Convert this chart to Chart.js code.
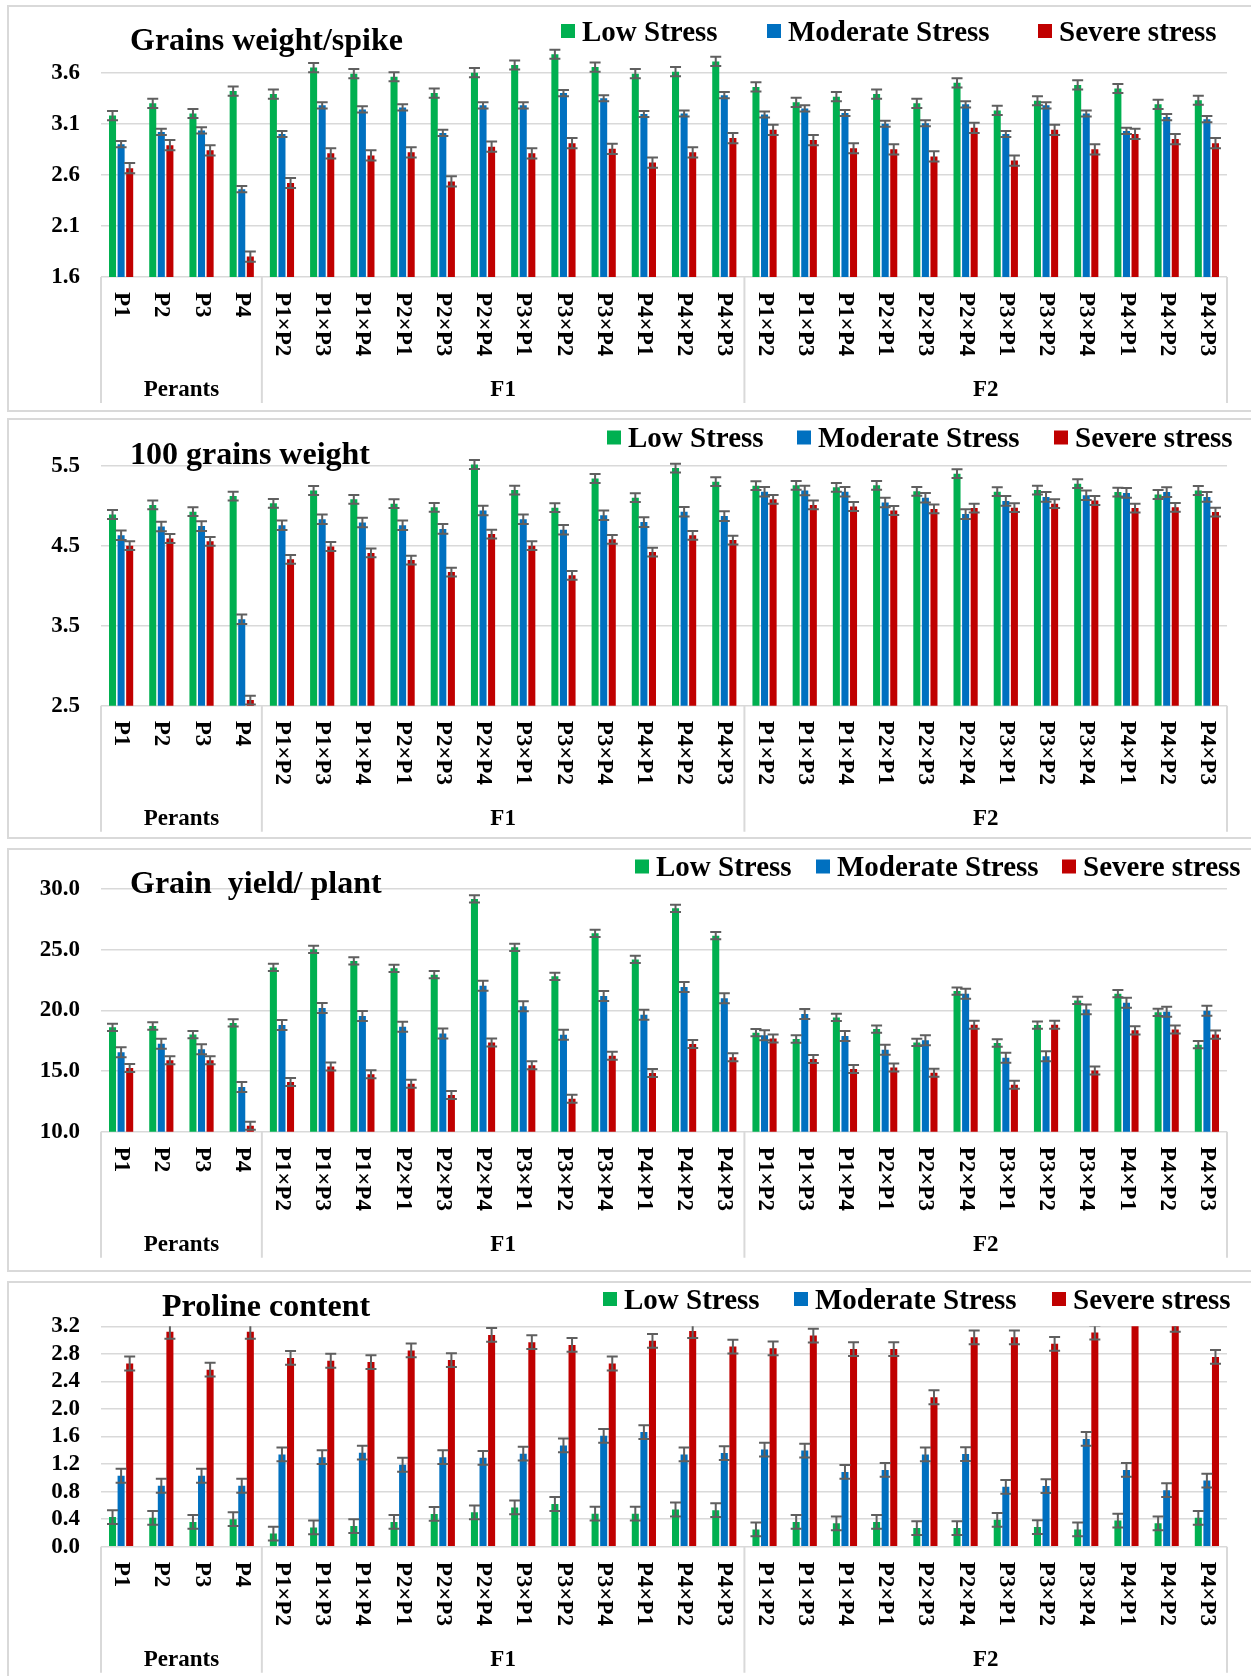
<!DOCTYPE html>
<html>
<head>
<meta charset="utf-8">
<script src="https://cdn.jsdelivr.net/npm/chart.js@4.4.1/dist/chart.umd.min.js"></script>
<style>
  html, body { margin: 0; padding: 0; background: #fff; width: 1251px; height: 1676px; overflow: hidden; }
  .frame { position: absolute; left: 7px; width: 1300px; border: 2px solid #d9d9d9; box-sizing: border-box; }
  .panel { position: absolute; left: 0; width: 1251px; }
  .panel canvas { position: absolute; left: 0; top: 0; }
</style>
</head>
<body>
<script>
// Genotypes on the category axis
const categories = ["P1", "P2", "P3", "P4",
  "P1×P2", "P1×P3", "P1×P4", "P2×P1", "P2×P3", "P2×P4", "P3×P1", "P3×P2", "P3×P4", "P4×P1", "P4×P2", "P4×P3",
  "P1×P2", "P1×P3", "P1×P4", "P2×P1", "P2×P3", "P2×P4", "P3×P1", "P3×P2", "P3×P4", "P4×P1", "P4×P2", "P4×P3"];
const generationNames = ["Perants", "F1", "F2"];
const generationStarts = [0, 4, 16];
const seriesNames = ["Low Stress", "Moderate Stress", "Severe stress"];

// Grains weight/spike
const gwsLow = [3.18, 3.30, 3.20, 3.42, 3.39, 3.65, 3.59, 3.56, 3.40, 3.60, 3.675, 3.78, 3.655, 3.59, 3.61, 3.71,
  3.46, 3.31, 3.365, 3.39, 3.30, 3.50, 3.23, 3.325, 3.48, 3.445, 3.29, 3.33];
const gwsModerate = [2.90, 3.02, 3.035, 2.46, 3.00, 3.28, 3.24, 3.26, 3.01, 3.28, 3.28, 3.40, 3.35, 3.195, 3.20, 3.38,
  3.19, 3.25, 3.205, 3.10, 3.105, 3.29, 3.00, 3.28, 3.20, 3.03, 3.165, 3.145];
const gwsSevere = [2.665, 2.89, 2.84, 1.80, 2.52, 2.81, 2.79, 2.82, 2.535, 2.875, 2.81, 2.91, 2.855, 2.72, 2.82, 2.96,
  3.04, 2.94, 2.86, 2.85, 2.78, 3.06, 2.74, 3.04, 2.85, 3.00, 2.95, 2.91];
const gwsErrors = [0.045, 0.03, 0.05];
const gwsTicks = [1.6, 2.1, 2.6, 3.1, 3.6];

// 100 grains weight
const hgwLow = [4.89, 5.01, 4.925, 5.12, 5.03, 5.19, 5.08, 5.025, 4.98, 5.515, 5.195, 4.975, 5.34, 5.10, 5.47, 5.30,
  5.25, 5.255, 5.23, 5.255, 5.18, 5.40, 5.175, 5.195, 5.275, 5.17, 5.14, 5.19];
const hgwModerate = [4.63, 4.74, 4.745, 3.58, 4.755, 4.83, 4.79, 4.755, 4.71, 4.94, 4.83, 4.70, 4.88, 4.795, 4.925, 4.87,
  5.175, 5.19, 5.175, 5.04, 5.10, 4.895, 5.06, 5.11, 5.13, 5.16, 5.17, 5.11];
const hgwSevere = [4.50, 4.59, 4.555, 2.57, 4.33, 4.49, 4.41, 4.32, 4.17, 4.645, 4.50, 4.13, 4.58, 4.42, 4.63, 4.57,
  5.08, 5.01, 4.99, 4.94, 4.96, 4.97, 4.975, 5.025, 5.065, 4.97, 4.98, 4.92];
const hgwErrors = [0.055, 0.06, 0.055];
const hgwTicks = [2.5, 3.5, 4.5, 5.5];

// Grain yield/ plant
const gypLow = [18.60, 18.71, 18.00, 18.96, 23.54, 25.03, 24.07, 23.46, 22.94, 29.18, 25.19, 22.80, 26.35, 24.20, 28.41, 26.15,
  18.16, 17.64, 19.42, 18.46, 17.36, 21.59, 17.31, 18.79, 20.82, 21.37, 19.84, 17.17];
const gypModerate = [16.54, 17.25, 16.79, 13.68, 18.79, 20.19, 19.53, 18.65, 18.10, 22.03, 20.33, 17.99, 21.18, 19.64, 21.92, 20.99,
  17.94, 19.70, 17.88, 16.76, 17.53, 21.37, 16.10, 16.21, 20.08, 20.63, 19.89, 19.97];
const gypSevere = [15.25, 15.88, 15.88, 10.49, 14.09, 15.38, 14.73, 13.96, 13.02, 17.36, 15.47, 12.72, 16.26, 14.84, 17.23, 16.13,
  17.69, 15.99, 15.16, 15.30, 14.86, 18.82, 13.87, 18.82, 15.05, 18.35, 18.43, 18.00];
const gypErrors = [0.3, 0.41, 0.33];
const gypTicks = [10, 15, 20, 25, 30];

// Proline content
const proLow = [0.43, 0.42, 0.36, 0.40, 0.19, 0.28, 0.30, 0.36, 0.475, 0.50, 0.57, 0.62, 0.48, 0.48, 0.54, 0.53,
  0.25, 0.36, 0.34, 0.36, 0.27, 0.27, 0.39, 0.285, 0.25, 0.38, 0.34, 0.42];
const proModerate = [1.03, 0.885, 1.03, 0.885, 1.34, 1.30, 1.365, 1.19, 1.30, 1.29, 1.35, 1.47, 1.61, 1.665, 1.34, 1.36,
  1.41, 1.395, 1.085, 1.115, 1.34, 1.345, 0.87, 0.88, 1.565, 1.115, 0.82, 0.96];
const proSevere = [2.66, 3.12, 2.57, 3.12, 2.74, 2.70, 2.68, 2.85, 2.71, 3.075, 2.97, 2.93, 2.66, 2.99, 3.13, 2.905,
  2.88, 3.065, 2.87, 2.87, 2.17, 3.04, 3.04, 2.945, 3.11, 3.35, 3.22, 2.755];
const proErrors = [0.1, 0.1, 0.1];
const proTicks = [0, 0.4, 0.8, 1.2, 1.6, 2.0, 2.4, 2.8, 3.2];

const COLORS = ["#00B050", "#0070C0", "#C00000"];
const SERIF = '"Liberation Serif", "Times New Roman", serif';

// Panel frames and chart geometry (page pixels)
const panels = [
  { title: "Grains weight/spike", series: [gwsLow, gwsModerate, gwsSevere], errors: gwsErrors, ticks: gwsTicks,
    min: 1.6, max: 3.9, top: 5, height: 407, frameH: 407, padTop: 37, xH: 135,
    titleX: 130, titleY: 45, legendY: 26, legendX: [561, 767, 1038] },
  { title: "100 grains weight", series: [hgwLow, hgwModerate, hgwSevere], errors: hgwErrors, ticks: hgwTicks,
    min: 2.5, max: 5.8, top: 418, height: 421, frameH: 421, padTop: 23.7, xH: 133.3,
    titleX: 130, titleY: 46, legendY: 19.5, legendX: [607, 797, 1054] },
  { title: "Grain  yield/ plant", series: [gypLow, gypModerate, gypSevere], errors: gypErrors, ticks: gypTicks,
    min: 10, max: 31.5, top: 848, height: 424, frameH: 424, padTop: 22.8, xH: 140.3,
    titleX: 130, titleY: 45, legendY: 18.5, legendX: [635, 816, 1062] },
  { title: "Proline content", series: [proLow, proModerate, proSevere], errors: proErrors, ticks: proTicks,
    min: 0, max: 3.2, top: 1281, height: 395, frameH: 420, padTop: 45.3, xH: 129.3,
    titleX: 162, titleY: 35, legendY: 18, legendX: [603, 794, 1052] }
];

// Error bars (± value, capped at both ends), clipped to the plot area
const errorBarPlugin = {
  id: "errorBars",
  afterDatasetsDraw(chart) {
    const { ctx, chartArea: a } = chart;
    const ys = chart.scales.y;
    ctx.save();
    ctx.beginPath();
    ctx.rect(a.left, a.top, a.right - a.left, a.bottom - a.top);
    ctx.clip();
    ctx.strokeStyle = "#5f5f5f";
    ctx.lineWidth = 2;
    chart.data.datasets.forEach((ds, di) => {
      const meta = chart.getDatasetMeta(di);
      meta.data.forEach((bar, i) => {
        const v = ds.data[i], e = ds.errorBar;
        const yT = ys.getPixelForValue(v + e), yB = ys.getPixelForValue(v - e);
        const x = bar.x, h = 5.5;
        ctx.beginPath();
        ctx.moveTo(x, yT); ctx.lineTo(x, yB);
        ctx.moveTo(x - h, yT); ctx.lineTo(x + h, yT);
        ctx.moveTo(x - h, yB); ctx.lineTo(x + h, yB);
        ctx.stroke();
      });
    });
    ctx.restore();
  }
};

// Rotated genotype labels, generation group labels and separators
const groupAxisPlugin = {
  id: "groupAxis",
  afterDraw(chart) {
    const { ctx, chartArea: a } = chart;
    const xs = chart.scales.x;
    const w = (a.right - a.left) / categories.length;
    ctx.save();
    ctx.fillStyle = "#000";
    ctx.font = "bold 23px " + SERIF;
    categories.forEach((c, i) => {
      const x = xs.getPixelForValue(i);
      ctx.save();
      ctx.translate(x, a.bottom + 15);
      ctx.rotate(Math.PI / 2);
      ctx.textAlign = "left";
      ctx.textBaseline = "middle";
      ctx.fillText(c, 0, 0);
      ctx.restore();
    });
    // separators
    ctx.strokeStyle = "#d9d9d9";
    ctx.lineWidth = 2;
    const bounds = generationStarts.concat([categories.length]);
    ctx.beginPath();
    bounds.forEach(b => {
      const x = a.left + b * w;
      ctx.moveTo(x, a.bottom);
      ctx.lineTo(x, a.bottom + 126);
    });
    ctx.stroke();
    // generation labels
    ctx.font = "bold 23px " + SERIF;
    ctx.textAlign = "center";
    ctx.textBaseline = "alphabetic";
    generationNames.forEach((g, k) => {
      const x0 = a.left + bounds[k] * w, x1 = a.left + bounds[k + 1] * w;
      ctx.fillText(g, (x0 + x1) / 2, a.bottom + 119);
    });
    ctx.restore();
  }
};

// Title and legend row
const headerPlugin = {
  id: "header",
  afterDraw(chart) {
    const p = chart.options.plugins.header;
    const { ctx } = chart;
    ctx.save();
    ctx.fillStyle = "#000";
    ctx.textAlign = "left";
    ctx.textBaseline = "alphabetic";
    ctx.font = "bold 32px " + SERIF;
    ctx.fillText(p.title, p.titleX, p.titleY);
    ctx.font = "bold 29px " + SERIF;
    chart.data.datasets.forEach((ds, i) => {
      const x = p.legendX[i];
      ctx.fillStyle = ds.backgroundColor;
      ctx.fillRect(x, p.legendY - 7, 14, 14);
      ctx.fillStyle = "#000";
      ctx.fillText(ds.label, x + 21, p.legendY + 9.5);
    });
    ctx.restore();
  }
};

panels.forEach(p => {
  const frame = document.createElement("div");
  frame.className = "frame";
  frame.style.top = p.top + "px";
  frame.style.height = p.frameH + "px";
  document.body.appendChild(frame);

  const holder = document.createElement("div");
  holder.className = "panel";
  holder.style.top = p.top + "px";
  holder.style.height = p.height + "px";
  const canvas = document.createElement("canvas");
  canvas.width = 1251;
  canvas.height = p.height;
  canvas.style.width = "1251px";
  canvas.style.height = p.height + "px";
  holder.appendChild(canvas);
  document.body.appendChild(holder);

  new Chart(canvas, {
    type: "bar",
    data: {
      labels: categories,
      datasets: p.series.map((d, i) => ({
        label: seriesNames[i],
        data: d,
        backgroundColor: COLORS[i],
        errorBar: p.errors[i],
        categoryPercentage: 0.64,
        barPercentage: 0.82
      }))
    },
    options: {
      responsive: false,
      animation: false,
      devicePixelRatio: 1,
      layout: { padding: { top: p.padTop, left: 0, right: 24, bottom: 0 } },
      plugins: {
        legend: { display: false },
        tooltip: { enabled: false },
        header: { title: p.title, titleX: p.titleX, titleY: p.titleY, legendX: p.legendX, legendY: p.legendY }
      },
      scales: {
        x: {
          grid: { display: false },
          border: { display: false },
          ticks: { display: false },
          afterFit: s => { s.height = p.xH; s.paddingLeft = 0; s.paddingRight = 0; }
        },
        y: {
          min: p.min,
          max: p.max,
          afterBuildTicks: s => { s.ticks = p.ticks.map(v => ({ value: v })); },
          afterFit: s => { s.width = 101; s.paddingTop = 0; s.paddingBottom = 0; },
          grid: { color: "#d9d9d9", lineWidth: 1.6, drawTicks: false },
          border: { display: false },
          ticks: {
            autoSkip: false,
            padding: 21,
            color: "#000",
            font: { family: SERIF, weight: "bold", size: 23 },
            callback: v => Number(v).toFixed(1)
          }
        }
      }
    },
    plugins: [errorBarPlugin, groupAxisPlugin, headerPlugin]
  });
});
</script>
</body>
</html>
